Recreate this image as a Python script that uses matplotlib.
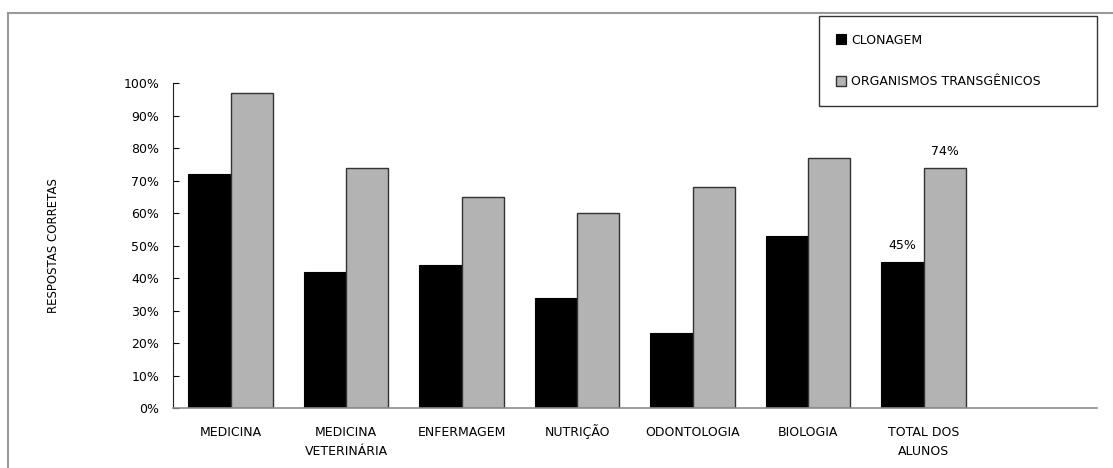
import numpy as np
import matplotlib.pyplot as plt
import matplotlib.transforms as mtransforms
from matplotlib.lines import Line2D

cursos = ['MEDICINA', 'MEDICINA\nVETERINÁRIA', 'ENFERMAGEM', 'NUTRIÇÃO',
          'ODONTOLOGIA', 'BIOLOGIA', 'TOTAL DOS\nALUNOS']
clonagem = [0.72, 0.42, 0.44, 0.34, 0.23, 0.53, 0.45]
transgenicos = [0.97, 0.74, 0.65, 0.60, 0.68, 0.77, 0.74]
yticks = np.arange(0, 1.01, 0.1)

fig = plt.figure(figsize=(11.13, 4.68), dpi=100)
ax = fig.add_axes([0.1554, 0.1282, 0.8302, 0.6944])

x = np.arange(len(cursos))
w = 0.366
b1 = ax.bar(x - w / 2, clonagem, w, color='black', edgecolor='black',
            linewidth=0.8, label='CLONAGEM')
b2 = ax.bar(x + w / 2, transgenicos, w, color='#b3b3b3', edgecolor='#333333',
            linewidth=1.0, label='ORGANISMOS TRANSGÊNICOS')

# percentage labels only on the totals
ax.text(x[-1] - w / 2, clonagem[-1] + 0.05, f'{clonagem[-1]:.0%}',
        ha='center', va='center', fontsize=9)
ax.text(x[-1] + w / 2, transgenicos[-1] + 0.05, f'{transgenicos[-1]:.0%}',
        ha='center', va='center', fontsize=9)

ax.set_xlim(-0.5, 7.5)
ax.set_ylim(0, 1)
ax.set_yticks(yticks)
ax.set_yticklabels([f'{v:.0%}' for v in yticks], fontsize=9)
ax.tick_params(axis='y', direction='in', length=4, width=0.8, pad=10)
ax.set_xticks(x)
ax.set_xticklabels(cursos, fontsize=9, linespacing=1.6, va='top')
ax.tick_params(axis='x', length=0, pad=13)

# accented capitals push a top-aligned label down; lift it back in line
for lbl in ax.get_xticklabels():
    if 'Ã' in lbl.get_text().split('\n')[0]:
        lbl.set_transform(lbl.get_transform() +
                          mtransforms.ScaledTranslation(0, 1.5 / 72, fig.dpi_scale_trans))

for s in ['top', 'right']:
    ax.spines[s].set_visible(False)
ax.spines['left'].set_color('#222222')
ax.spines['left'].set_linewidth(0.8)
ax.spines['bottom'].set_color('#8c8c8c')
ax.spines['bottom'].set_linewidth(1.2)

ax.set_ylabel('RESPOSTAS CORRETAS', fontsize=8.5)
ax.yaxis.set_label_coords(-0.122, 0.5)

leg = fig.legend(handles=[b1, b2], loc='upper left',
                 bbox_to_anchor=(819 / 1113, 1 - 16 / 468, 278 / 1113, 0.0),
                 mode='expand', frameon=True, fancybox=False, fontsize=9,
                 handlelength=0.8, handleheight=0.8, handletextpad=0.35,
                 labelspacing=2.3, borderpad=1.4, borderaxespad=0)
leg.get_frame().set_edgecolor('black')
leg.get_frame().set_linewidth(1.0)

# outer chart frame
fig.add_artist(Line2D([8 / 1113, 8 / 1113], [0, 1 - 13 / 468],
                      transform=fig.transFigure, color='#999999', lw=1.5))
fig.add_artist(Line2D([8 / 1113, 1], [1 - 13 / 468, 1 - 13 / 468],
                      transform=fig.transFigure, color='#999999', lw=1.5))

fig.savefig('out.png', dpi=100)
